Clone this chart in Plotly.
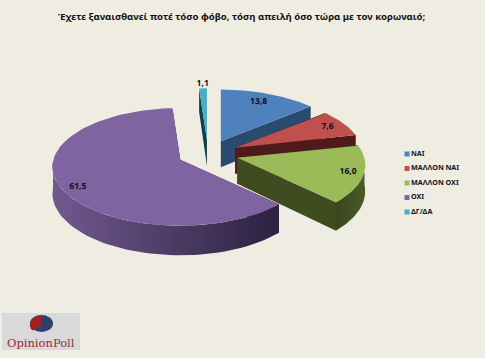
import numpy as np
import plotly.graph_objects as go

categories = ["ΝΑΙ", "ΜΑΛΛΟΝ ΝΑΙ", "ΜΑΛΛΟΝ ΟΧΙ", "ΟΧΙ", "ΔΓ/ΔΑ"]
values = [13.8, 7.6, 16.0, 61.5, 1.1]
title = "Έχετε ξαναισθανεί ποτέ τόσο φόβο, τόση απειλή όσο τώρα με τον κορωναιό;"

top_colors = ["#4F81BD", "#C0504D", "#9BBB59", "#8064A2", "#4BACC6"]
cut_colors = ["#2B4A6F", "#4F1B1A", "#3E4C20", "#2E2342", "#123F4C"]
rim_colors = [("#2B4A6F", "#2B4A6F"), ("#6E2A28", "#4F1B1A"), ("#4A5B26", "#3A471D"),
              ("#71598F", "#2C2240"), ("#123F4C", "#123F4C")]
label_radius = [0.80, 0.85, 0.88, 0.88, 1.10]
label_shift = [-1, 0, 0, -5, 0]

BG = "#EFEDE2"
W, H = 485, 358
CX, CY = 208, 154      # pie centre
RX, RY = 127, 58       # radii of the tilted disc
PERSP = 0.12           # perspective strength
DEPTH = 26             # extrusion
EXPLODE = 0.24


def project(ang_deg, r, cx, cy, down=0.0):
    a = np.radians(ang_deg)
    u, v = r * np.sin(a), -r * np.cos(a)
    s = 1 / (1 - PERSP * v)
    return cx + RX * u * s, cy + RY * v * s + down * s


def poly(xs, ys, color=None, grad=None):
    kw = dict(x=list(xs), y=list(ys), mode="lines", fill="toself", line=dict(width=0),
              hoverinfo="skip", showlegend=False)
    if grad:
        kw["fillgradient"] = dict(type="horizontal", colorscale=[[0, grad[0]], [1, grad[1]]])
    else:
        kw["fillcolor"] = color
    return go.Scatter(**kw)


fig = go.Figure()

total = sum(values)
edges = np.concatenate([[0], np.cumsum(values)]) / total * 360
draw_order = [0, 1, 2, 4, 3]
labels = []
for i in draw_order:
    a0, a1 = edges[i], edges[i + 1]
    mid = (a0 + a1) / 2
    m = np.radians(mid)
    ax = CX + EXPLODE * RX * np.sin(m)
    ay = CY - EXPLODE * RY * np.cos(m)
    th = np.linspace(a0, a1, 90)

    # straight cut faces
    for ang in (a0, a1):
        ex, ey = project(ang, 1, ax, ay)
        ex2, ey2 = project(ang, 1, ax, ay, DEPTH)
        fig.add_trace(poly([ax, ex, ex2, ax, ax], [ay, ey, ey2, ay + DEPTH, ay], cut_colors[i]))

    # outer wall, only the part turned to the viewer
    vis = th[np.cos(np.radians(th)) <= 0]
    if len(vis) > 1:
        x1, y1 = project(vis, 1, ax, ay)
        x2, y2 = project(vis, 1, ax, ay, DEPTH)
        fig.add_trace(poly(np.r_[x1, x2[::-1], x1[0]], np.r_[y1, y2[::-1], y1[0]],
                           grad=rim_colors[i][::-1] if i != 3 else rim_colors[i][::1]))

    # top face
    x, y = project(th, 1, ax, ay)
    fig.add_trace(poly(np.r_[ax, x, ax], np.r_[ay, y, ay], top_colors[i]))

    lx, ly = project(mid + label_shift[i], label_radius[i], ax, ay)
    labels.append((lx, ly, f"{values[i]:.1f}".replace(".", ",")))

# data labels
fig.add_trace(go.Scatter(
    x=[l[0] for l in labels], y=[l[1] for l in labels], text=[l[2] for l in labels],
    mode="text", textposition="middle center", hoverinfo="skip", showlegend=False,
    textfont=dict(family="Noto Sans, sans-serif", size=8.5, color="#101020", weight="bold")))

# legend
LEG_X, LEG_Y, LEG_STEP = 407, 154, 14.5
leg_y = [LEG_Y + k * LEG_STEP for k in range(len(categories))]
fig.add_trace(go.Scatter(
    x=[LEG_X] * len(categories), y=leg_y, mode="markers",
    marker=dict(symbol="square", size=5, color=top_colors), hoverinfo="skip", showlegend=False))
fig.add_trace(go.Scatter(
    x=[LEG_X + 4] * len(categories), y=leg_y, mode="text", text=categories,
    textposition="middle right", hoverinfo="skip", showlegend=False,
    textfont=dict(family="Noto Sans, sans-serif", size=7.2, color="#15151F", weight="bold")))

shapes = [
    dict(type="rect", x0=2, x1=80, y0=313, y1=350, fillcolor="#D9D9D9", line_width=0, layer="below"),
    dict(type="circle", x0=30, x1=53, y0=315, y1=332, fillcolor="#2E3F6E", line_width=0),
    dict(type="path", path="M 41 325 L 41 315.5 C 36 316, 30 319, 30 325 C 30 328, 31 330, 33 330.5 Z",
         fillcolor="#A51F1F", line_width=0),
]

annotations = [
    dict(x=241, y=16, text=f"<b>{title}</b>", showarrow=False, xref="x", yref="y",
         font=dict(family="Noto Sans, sans-serif", size=9.6, color="#111111")),
    dict(x=41, y=343, text='<span style="color:#A02A2A">Opinion</span><span style="color:#8A3040">Poll</span>',
         showarrow=False, xref="x", yref="y",
         font=dict(family="DejaVu Serif, serif", size=11.5)),
]

fig.update_layout(
    width=W, height=H, margin=dict(l=0, r=0, t=0, b=0),
    paper_bgcolor=BG, plot_bgcolor=BG, showlegend=False,
    xaxis=dict(range=[0, W], visible=False, fixedrange=True),
    yaxis=dict(range=[H, 0], visible=False, fixedrange=True),
    shapes=shapes, annotations=annotations,
)
fig.write_html("out.html", config={"displayModeBar": False},
               post_script="document.body.style.margin='0';document.body.style.background='#EFEDE2';document.documentElement.style.overflow='hidden';")
